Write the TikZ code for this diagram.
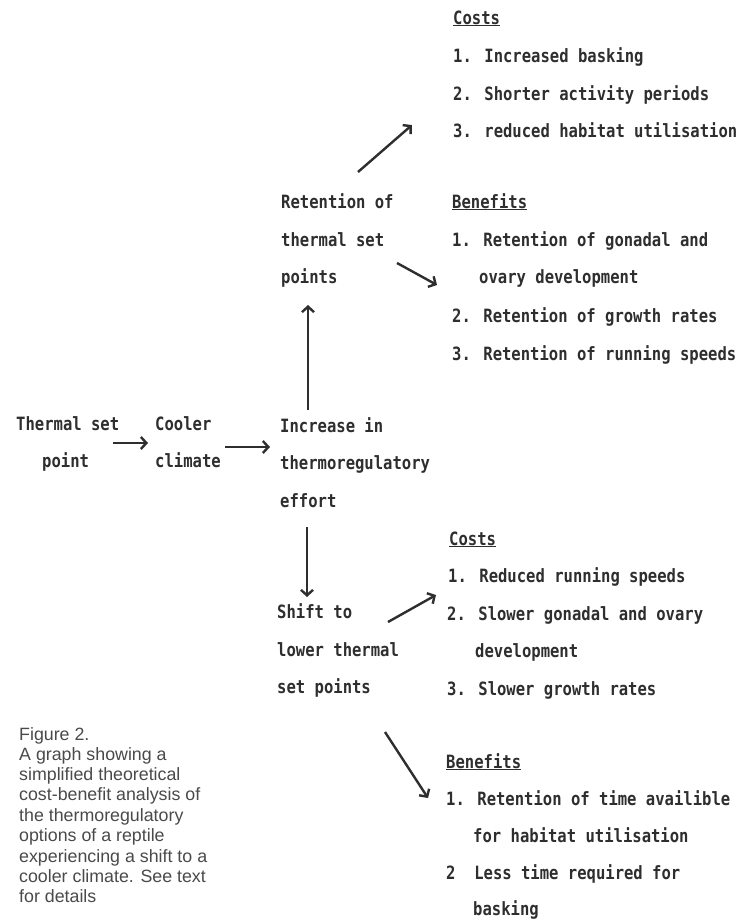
\documentclass[tikz,border=0pt]{standalone}
\usepackage{fontspec}
\setmainfont{Liberation Sans}
\newfontfamily\monof[FakeStretch=0.85]{DejaVu Sans Mono}
\newfontfamily\capf{Liberation Sans}
\usetikzlibrary{arrows.meta}
\definecolor{ink}{HTML}{2E2E2E}
\definecolor{capink}{HTML}{4A4A4A}
\begin{document}
\begin{tikzpicture}[x=1pt,y=-1pt,
  mono/.style={anchor=base west, inner sep=0pt, font=\monof\bfseries\fontsize{18.3}{20}\selectfont, text=ink},
  captxt/.style={anchor=base west, inner sep=0pt, font=\capf\fontsize{17.8}{20}\selectfont, text=capink},
  arr/.style={draw=ink, line width=2.4pt, -{Straight Barb[length=5.5pt,width=12pt,line width=2.4pt]}}]
\fill[white] (0,0) rectangle (737,922);
\useasboundingbox (0,0) rectangle (737,922);

% top costs
\node[mono] (tc0) at (453,24) {\underline{Costs}};
\node[mono] (tc1) at (453,62) {1. Increased basking};
\node[mono] (tc2) at (453,100) {2. Shorter activity periods};
\node[mono] (tc3) at (453,137) {3. reduced habitat utilisation};

% retention
\node[mono] (r1) at (281,208) {Retention of};
\node[mono] (r2) at (281,246) {thermal set};
\node[mono] (r3) at (281,283) {points};

% top benefits
\node[mono] (tb0) at (452,208) {\underline{Benefits}};
\node[mono] (tb1) at (452,246) {1. Retention of gonadal and};
\node[mono] (tb1b) at (479,283) {ovary development};
\node[mono] (tb2) at (452,322) {2. Retention of growth rates};
\node[mono] (tb3) at (452,360) {3. Retention of running speeds};

% middle row
\node[mono] (t1) at (16,430) {Thermal set};
\node[mono] (t2) at (42,467) {point};
\node[mono] (cc1) at (155,430) {Cooler};
\node[mono] (cc2) at (155,467) {climate};
\node[mono] (i1) at (280,432) {Increase in};
\node[mono] (i2) at (280,469) {thermoregulatory};
\node[mono] (i3) at (280,507) {effort};

% shift
\node[mono] (s1) at (277,618) {Shift to};
\node[mono] (s2) at (277,656) {lower thermal};
\node[mono] (s3) at (277,693) {set points};

% lower costs
\node[mono] (lc0) at (449,545) {\underline{Costs}};
\node[mono] (lc1) at (448,582) {1. Reduced running speeds};
\node[mono] (lc2) at (447,620) {2. Slower gonadal and ovary};
\node[mono] (lc2b) at (475,657) {development};
\node[mono] (lc3) at (447,695) {3. Slower growth rates};

% lower benefits
\node[mono] (lb0) at (446,768) {\underline{Benefits}};
\node[mono] (lb1) at (446,805) {1. Retention of time availible};
\node[mono] (lb1b) at (473,842) {for habitat utilisation};
\node[mono] (lb2) at (446,879) {2 \ Less time required for};
\node[mono] (lb2b) at (473,915) {basking};

% caption
\node[captxt] (f0) at (19,740) {Figure 2.};
\node[captxt] (f1) at (19,760) {A graph showing a};
\node[captxt] (f2) at (19,780.4) {simplified theoretical};
\node[captxt] (f3) at (19,800.8) {cost-benefit analysis of};
\node[captxt] (f4) at (19,821.2) {the thermoregulatory};
\node[captxt] (f5) at (19,841.6) {options of a reptile};
\node[captxt] (f6) at (19,862) {experiencing a shift to a};
\node[captxt] (f7) at (19,882.4) {cooler climate. See text};
\node[captxt] (f8) at (19,902.8) {for details};

% arrow end points
\coordinate (a1s) at (358,172); \coordinate (a1e) at (412,125);
\coordinate (a2s) at (397,263); \coordinate (a2e) at (437,285);
\coordinate (a3s) at (308,410); \coordinate (a3e) at (308,305);
\coordinate (a4s) at (113,443); \coordinate (a4e) at (148,443);
\coordinate (a5s) at (225,447); \coordinate (a5e) at (270,447);
\coordinate (a6s) at (307,527); \coordinate (a6e) at (307,597);
\coordinate (a7s) at (388,622); \coordinate (a7e) at (436,595);
\coordinate (a8s) at (385,732); \coordinate (a8e) at (428,798);

\draw[arr] (a1s) -- (a1e);
\draw[arr] (a2s) -- (a2e);
\draw[arr] (a3s) -- (a3e);
\draw[arr] (a4s) -- (a4e);
\draw[arr] (a5s) -- (a5e);
\draw[arr] (a6s) -- (a6e);
\draw[arr] (a7s) -- (a7e);
\draw[arr] (a8s) -- (a8e);
\end{tikzpicture}
\end{document}
